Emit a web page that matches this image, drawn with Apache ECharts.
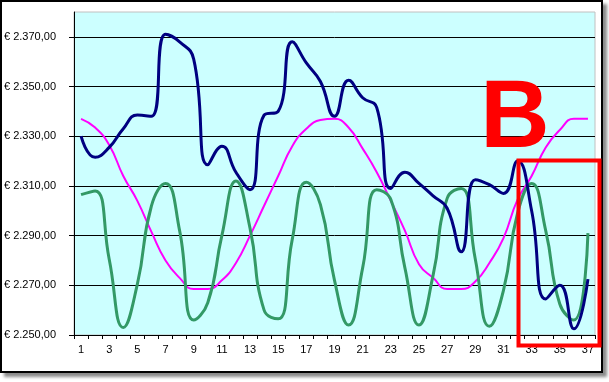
<!DOCTYPE html>
<html>
<head>
<meta charset="utf-8">
<script src="https://cdn.jsdelivr.net/npm/echarts@6/dist/echarts.min.js"></script>
<style>
html,body{margin:0;padding:0;background:#fff;width:609px;height:382px;overflow:hidden;}
#frame{position:absolute;left:0;top:0;width:603px;height:373px;box-sizing:border-box;border:2px solid #000;background:#fff;box-shadow:4px 4px 3px #8a8a8a;}
#chart{position:absolute;left:0;top:0;width:609px;height:382px;}
</style>
</head>
<body>
<div id="frame"></div>
<div id="chart"></div>
<script>
// Categories (x axis)
const categories = ['1','2','3','4','5','6','7','8','9','10','11','12','13','14','15','16','17','18','19','20','21','22','23','24','25','26','27','28','29','30','31','32','33','34','35','36','37'];

// Y axis tick values
const yTicks = [2250, 2270, 2290, 2310, 2330, 2350, 2370];

// Series values
const navySeries = [2330, 2321.5, 2325.5, 2333, 2338.5, 2338, 2371, 2368, 2361, 2318.5, 2326, 2315.5, 2308.5, 2338.5, 2340, 2368, 2359.5, 2352, 2338, 2352.5, 2345.5, 2341.5, 2309, 2315.5, 2311, 2306, 2301, 2283.5, 2312.5, 2310.5, 2307, 2320, 2300, 2264.5, 2270, 2252.5, 2272.5];
const magentaSeries = [2337, 2333.5, 2326.5, 2314, 2304, 2291.5, 2280, 2273, 2268.5, 2268.5, 2272, 2279, 2290, 2302, 2314, 2326, 2333, 2336.5, 2337, 2333.5, 2325, 2315.5, 2304, 2292, 2278.5, 2273, 2268.5, 2268.5, 2271.5, 2279, 2289, 2304.5, 2314, 2325.5, 2332.5, 2337, 2337];
const greenSeries = [2306.5, 2308, 2280.5, 2253, 2270.5, 2302, 2311, 2292, 2256, 2263, 2290, 2312, 2293, 2260, 2256.5, 2288.5, 2311.5, 2302.5, 2272, 2254, 2277, 2308.5, 2304.5, 2277, 2254, 2274, 2305, 2309, 2280.5, 2253.5, 2268, 2299, 2311, 2292, 2262.5, 2256, 2291];

function euro(v) {
  const parts = Math.round(v).toString();
  const withDots = parts.replace(/\B(?=(\d{3})+(?!\d))/g, '.');
  return '€ ' + withDots + ',00';
}

const chart = echarts.init(document.getElementById('chart'), null, {renderer: 'canvas'});
const font = "'Liberation Sans', Arial, sans-serif";

chart.setOption({
  backgroundColor: 'transparent',
  animation: false,
  grid: {
    left: 74, right: 14, top: 12, bottom: 47,
    show: true,
    backgroundColor: '#ccffff',
    borderColor: '#c0c0c0',
    borderWidth: 1
  },
  xAxis: {
    type: 'category',
    data: categories,
    boundaryGap: true,
    axisLine: {lineStyle: {color: '#000', width: 1}},
    axisTick: {show: true, interval: 0, length: 4, lineStyle: {color: '#000'}},
    axisLabel: {interval: 1, margin: 9, color: '#000', fontSize: 11, fontFamily: font},
    splitLine: {show: false}
  },
  yAxis: {
    type: 'value',
    min: 2250,
    max: 2380,
    interval: 20,
    axisLine: {show: true, lineStyle: {color: '#000', width: 1}},
    axisTick: {show: true, length: 5, lineStyle: {color: '#000'}, customValues: yTicks},
    axisLabel: {margin: 18, color: '#000', fontSize: 11, fontFamily: font, formatter: euro, customValues: yTicks},
    splitLine: {show: true, lineStyle: {color: '#000', width: 1}}
  },
  series: [
    {
      type: 'line', data: magentaSeries, smooth: true, symbol: 'none',
      lineStyle: {color: '#ff00ff', width: 2}, z: 3
    },
    {
      type: 'line', data: greenSeries, smooth: true, symbol: 'none',
      lineStyle: {color: '#339966', width: 3}, z: 4
    },
    {
      type: 'line', data: navySeries, smooth: true, symbol: 'none',
      lineStyle: {color: '#000080', width: 3}, z: 5
    }
  ],
  graphic: [
    {
      type: 'text', z: 100,
      x: 515, y: 121,
      style: {text: 'B', fill: '#ff0000', font: "bold 96px 'Liberation Sans', Arial, sans-serif", align: 'center', verticalAlign: 'middle'}
    },
    {
      type: 'rect', z: 100,
      shape: {x: 518.5, y: 160.5, width: 81, height: 185},
      style: {fill: 'none', stroke: '#ff0000', lineWidth: 4}
    }
  ]
});
</script>
</body>
</html>
